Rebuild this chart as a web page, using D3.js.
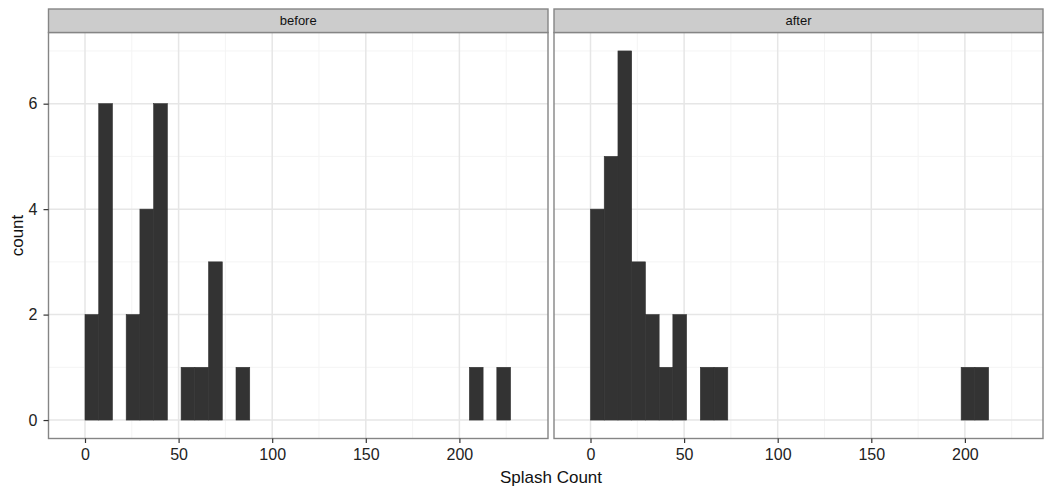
<!DOCTYPE html>
<html>
<head>
<meta charset="utf-8">
<script src="https://cdn.jsdelivr.net/npm/d3@7"></script>
<style>
  html, body { margin: 0; padding: 0; background: #fff; }
  svg { display: block; font-family: "Liberation Sans", Arial, sans-serif; }
</style>
</head>
<body>
<svg id="chart" width="1044" height="489"></svg>
<script>
// Histogram of splash counts, faceted by period (bin width = 220 / 30)
const binWidth = 220 / 30;
const facets = ["before", "after"];
// counts per bin, bin i covers [i*binWidth, (i+1)*binWidth)
const beforeCounts = [2, 6, 0, 2, 4, 6, 0, 1, 1, 3, 0, 1,
  0, 0, 0, 0, 0, 0, 0, 0, 0, 0, 0, 0, 0, 0, 0, 0,
  1, 0, 1];
const afterCounts = [4, 5, 7, 3, 2, 1, 2, 0, 1, 1,
  0, 0, 0, 0, 0, 0, 0, 0, 0, 0, 0, 0, 0, 0, 0, 0, 0,
  1, 1];
const xTicks = [0, 50, 100, 150, 200];
const xMinor = [25, 75, 125, 175, 225];
const yTicks = [0, 2, 4, 6];
const yMinor = [1, 3, 5, 7];
const xTitle = "Splash Count";
const yTitle = "count";

const seriesByFacet = { before: beforeCounts, after: afterCounts };

const svg = d3.select("#chart");
const panelTop = 32.5, panelBottom = 438.5, stripH = 23.5;
const panelW = 500;
const panelLefts = [48.5, 554];
const panelVisibleW = [499.5, 489];

const y = d3.scaleLinear().domain([-0.35, 7.35]).range([panelBottom, panelTop]);

facets.forEach((name, i) => {
  const left = panelLefts[i];
  const w = panelVisibleW[i];
  const x = d3.scaleLinear().domain([-19.5, 247.6]).range([left, left + panelW]);
  const counts = seriesByFacet[name];

  const clipId = "clip-" + name;
  svg.append("clipPath").attr("id", clipId)
    .append("rect").attr("x", left).attr("y", panelTop).attr("width", w).attr("height", panelBottom - panelTop);

  const g = svg.append("g").attr("clip-path", `url(#${clipId})`);
  g.append("rect").attr("x", left).attr("y", panelTop).attr("width", w).attr("height", panelBottom - panelTop).attr("fill", "#fff");

  // minor grid
  g.selectAll(".xmin").data(xMinor).join("line")
    .attr("x1", d => x(d)).attr("x2", d => x(d)).attr("y1", panelTop).attr("y2", panelBottom)
    .attr("stroke", "#f4f4f4").attr("stroke-width", 1);
  g.selectAll(".ymin").data(yMinor).join("line")
    .attr("x1", left).attr("x2", left + w).attr("y1", d => y(d)).attr("y2", d => y(d))
    .attr("stroke", "#f4f4f4").attr("stroke-width", 1);
  // major grid
  g.selectAll(".xmaj").data(xTicks).join("line")
    .attr("x1", d => x(d)).attr("x2", d => x(d)).attr("y1", panelTop).attr("y2", panelBottom)
    .attr("stroke", "#e6e6e6").attr("stroke-width", 1.5);
  g.selectAll(".ymaj").data(yTicks).join("line")
    .attr("x1", left).attr("x2", left + w).attr("y1", d => y(d)).attr("y2", d => y(d))
    .attr("stroke", "#e6e6e6").attr("stroke-width", 1.5);

  // bars
  const bins = counts.map((c, k) => ({ x0: k * binWidth, x1: (k + 1) * binWidth, n: c }))
    .filter(b => b.n > 0);
  g.selectAll(".bar").data(bins).join("rect")
    .attr("x", d => x(d.x0)).attr("width", d => x(d.x1) - x(d.x0))
    .attr("y", d => y(d.n)).attr("height", d => y(0) - y(d.n))
    .attr("fill", "#333333").attr("stroke", "#333333").attr("stroke-width", 0.6);

  // panel border
  svg.append("rect").attr("x", left).attr("y", panelTop).attr("width", w).attr("height", panelBottom - panelTop)
    .attr("fill", "none").attr("stroke", "#858585").attr("stroke-width", 1.4);

  // strip
  svg.append("rect").attr("x", left).attr("y", panelTop - stripH).attr("width", w).attr("height", stripH)
    .attr("fill", "#cccccc").attr("stroke", "#858585").attr("stroke-width", 1.4);
  svg.append("text").attr("x", left + w / 2).attr("y", panelTop - stripH / 2 + 4.5)
    .attr("text-anchor", "middle").attr("font-size", 13).attr("fill", "#111").text(name);

  // x axis
  const xAxis = svg.append("g").attr("transform", `translate(0,${panelBottom})`)
    .call(d3.axisBottom(x).tickValues(xTicks).tickSize(4.5).tickPadding(6).tickFormat(d3.format("d")));
  xAxis.select(".domain").remove();
  xAxis.selectAll(".tick line").attr("stroke", "#333").attr("stroke-width", 1.2);
  xAxis.selectAll(".tick text").attr("font-size", 16).attr("fill", "#222")
    .attr("font-family", "Liberation Sans, Arial, sans-serif");
});

// y axis on the first panel
const yAxis = svg.append("g").attr("transform", `translate(${panelLefts[0]},0)`)
  .call(d3.axisLeft(y).tickValues(yTicks).tickSize(5).tickPadding(6).tickFormat(d3.format("d")));
yAxis.select(".domain").remove();
yAxis.selectAll(".tick line").attr("stroke", "#333").attr("stroke-width", 1.2);
yAxis.selectAll(".tick text").attr("font-size", 16).attr("fill", "#222")
  .attr("font-family", "Liberation Sans, Arial, sans-serif");

// axis titles
svg.append("text").attr("x", 551).attr("y", 483).attr("text-anchor", "middle")
  .attr("font-size", 17).attr("fill", "#111").text(xTitle);
svg.append("text").attr("transform", `translate(23,${(panelTop + panelBottom) / 2}) rotate(-90)`)
  .attr("text-anchor", "middle").attr("font-size", 17).attr("fill", "#111").text(yTitle);
</script>
</body>
</html>
